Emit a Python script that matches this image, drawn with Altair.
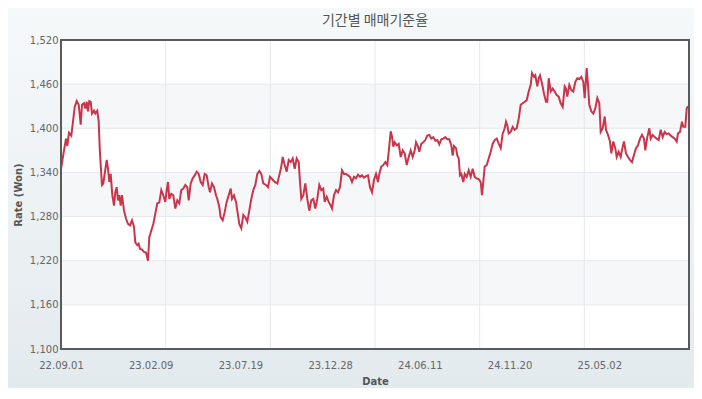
import altair as alt
import pandas as pd

# ---- data ----
title_text = "기간별 매매기준율"
x_labels = ["22.09.01", "23.02.09", "23.07.19", "23.12.28", "24.06.11", "24.11.20", "25.05.02"]
y_ticks = [1100, 1160, 1220, 1280, 1340, 1400, 1460, 1520]
span = 628          # sample index range of the series
label_steps = 7     # label interval count across the span
grid_steps = 6      # vertical grid divisions

t = [0, 3.0, 5.0, 6.3, 8.0, 10.3, 12.0, 13.7, 15.7, 17.7, 19.7, 21.0, 23.0, 24.3, 25.7, 27.0, 28.3, 29.7,
     31.0, 33.0, 34.3, 36.3, 37.7, 38.7, 39.7, 41.0, 42.3, 43.7, 45.7, 47.0, 48.3, 49.7, 51.3, 53.0, 54.3,
     55.7, 57.0, 58.3, 59.7, 61.0, 63.0, 65.0, 67.0, 69.0, 71.0, 73.0, 74.3, 76.3, 77.7, 79.0, 81.0, 83.0,
     85.0, 87.0, 88.3, 90.3, 92.3, 94.3, 96.3, 98.3, 100.3, 102.3,
     104.3, 105.7, 107.0, 108.3, 110.3, 112.3, 114.3, 116.3, 118.3, 120.3, 122.3, 124.3, 126.3, 127.7,
     129.7, 131.7, 133.7, 135.7, 137.7, 139.7, 141.7, 143.7, 145.7, 147.7, 149.0, 151.0, 153.0, 155.0,
     156.3, 158.3, 159.7, 161.7, 163.7, 165.7, 167.7, 169.7, 171.0, 173.0, 175.0, 177.0, 178.3, 180.3,
     182.3, 184.3, 186.3, 188.3, 190.3, 192.3, 194.3, 196.3, 198.3, 200.3, 202.3, 205.0, 207.0, 209.0,
     211.7, 213.7, 216.3, 218.3, 220.3, 221.7, 223.7, 225.7, 227.7, 229.7, 231.7, 233.7, 235.7, 237.7,
     239.0, 240.3, 242.3, 244.3, 246.3, 248.3, 250.3, 252.3, 254.3, 256.3, 258.3, 260.3, 262.3, 263.7,
     265.7, 267.7, 269.7, 271.0, 273.0, 275.0, 277.0, 279.0, 281.0, 283.0, 285.0, 287.0, 289.0, 291.0,
     293.0, 295.0, 297.0, 299.0, 301.0, 303.0, 305.0, 307.0, 309.0, 311.0, 313.0, 315.0,
     317.0, 318.3, 320.3, 322.3, 324.3, 326.3, 327.7, 329.7, 331.0, 332.3, 333.7, 335.7, 337.7, 339.7,
     341.7, 343.7, 345.7, 347.7, 349.7, 351.7, 353.7, 355.0, 357.0, 358.3, 360.3, 362.3, 364.3, 366.3,
     368.3, 370.3, 372.3, 374.3, 376.3, 378.3, 380.3, 382.3, 384.3, 386.3, 388.3, 390.3, 391.7, 393.0,
     395.0, 396.3, 397.7, 399.0, 400.3, 402.3, 403.7, 405.7, 407.7, 409.7, 411.7, 413.7, 415.7, 417.7,
     419.7, 421.0,
     422.3, 423.7, 425.7, 427.7, 429.7, 431.7, 433.7, 435.7, 437.7, 439.7, 441.7, 443.7, 445.0, 446.3,
     447.7, 449.7, 451.7, 453.7, 455.7, 457.7, 459.7, 461.7, 463.7, 465.7, 467.7, 469.7, 471.0, 473.0,
     474.3, 476.3, 477.7, 479.0, 481.0, 483.0, 485.0, 486.3, 487.7, 489.7, 491.7, 493.7, 495.7, 497.7,
     499.7, 501.7, 503.7, 505.0, 506.3, 508.3, 510.3, 512.3, 514.3, 516.3, 518.3, 520.3, 522.3, 523.7,
     525.7, 527.0,
     528.3, 530.3, 532.3, 534.3, 536.3, 538.3, 539.7, 541.7, 543.7, 545.0, 547.0, 549.0, 550.3, 552.3,
     554.3, 555.7, 557.7, 559.7, 561.7, 563.0, 565.0, 567.0, 569.0, 571.0, 573.0, 575.0, 577.0, 579.0,
     581.0, 583.0, 584.3, 586.3, 588.3, 589.7, 591.7, 593.7, 595.7, 597.7, 599.7, 601.7, 603.7, 605.7,
     607.7, 609.7, 611.7, 613.7, 615.7, 617.0, 619.0, 621.0, 622.3, 624.3, 625.7, 627.0]

rate = [1345, 1370, 1386, 1376, 1394, 1390, 1409, 1429, 1437, 1432, 1405, 1432, 1434, 1427, 1436, 1423, 1437, 1436,
        1420, 1424, 1420, 1424, 1409, 1373, 1350, 1323, 1325, 1338, 1357, 1345, 1327, 1338, 1309, 1295, 1313,
        1320, 1302, 1309, 1295, 1309, 1288, 1277, 1270, 1268, 1275, 1266, 1245, 1241, 1243, 1236, 1235, 1232,
        1231, 1220, 1252, 1261, 1270, 1284, 1298, 1299, 1316, 1309,
        1300, 1316, 1327, 1304, 1311, 1309, 1291, 1302, 1298, 1316, 1318, 1323, 1320, 1302,
        1325, 1332, 1336, 1341, 1338, 1327, 1323, 1338, 1336, 1320, 1313, 1325, 1320, 1309,
        1304, 1293, 1279, 1275, 1286, 1300, 1309, 1318, 1304, 1309, 1300, 1282, 1270, 1264,
        1282, 1279, 1273, 1288, 1304, 1316, 1323, 1338, 1342, 1338, 1325, 1323, 1320, 1334,
        1330, 1327, 1325, 1336, 1348, 1361, 1350, 1341, 1357, 1354, 1359, 1345, 1359, 1354,
        1327, 1304, 1309, 1325, 1304, 1288, 1302, 1304, 1291, 1304, 1323, 1316, 1318, 1300,
        1307, 1300, 1295, 1291, 1309, 1316, 1313, 1320, 1343, 1338, 1338, 1336, 1334, 1327,
        1334, 1332, 1337, 1334, 1336, 1333, 1335, 1336, 1320, 1313, 1330, 1338,
        1327, 1338, 1348, 1350, 1354, 1350, 1368, 1396, 1389, 1375, 1381, 1377, 1379, 1361,
        1370, 1366, 1350, 1361, 1370, 1361, 1370, 1381, 1375, 1368, 1379, 1381, 1384, 1390,
        1391, 1386, 1388, 1383, 1384, 1378, 1385, 1386, 1388, 1385, 1385, 1377, 1363, 1376,
        1373, 1363, 1359, 1336, 1338, 1327, 1338, 1334, 1343, 1334, 1345, 1334, 1332, 1331,
        1327, 1309,
        1327, 1348, 1350, 1359, 1368, 1379, 1384, 1386, 1379, 1373, 1393, 1400, 1409, 1404,
        1393, 1395, 1402, 1398, 1400, 1413, 1432, 1434, 1436, 1438, 1450, 1459, 1475, 1470,
        1472, 1457, 1468, 1472, 1461, 1447, 1436, 1436, 1468, 1450, 1454, 1450, 1445, 1443,
        1434, 1429, 1457, 1454, 1443, 1459, 1452, 1450, 1463, 1468, 1467, 1470, 1463, 1441,
        1482, 1459,
        1432, 1423, 1420, 1427, 1441, 1434, 1395, 1400, 1416, 1398, 1391, 1382, 1366, 1382,
        1373, 1361, 1368, 1361, 1375, 1382, 1366, 1361, 1357, 1354, 1364, 1373, 1377, 1386,
        1391, 1386, 1370, 1388, 1400, 1386, 1391, 1388, 1386, 1384, 1398, 1388, 1395, 1392,
        1393, 1390, 1388, 1386, 1382, 1393, 1395, 1409, 1402, 1402, 1427, 1430]

# ---- layout / style ----
W, H = 628, 309
PAD = {"left": 53, "top": 32, "right": 5, "bottom": 39}
LINE_COLOR = "#c9354b"
GRID_COLOR = "#e5e8ec"
BAND_COLOR = "#f6f7f9"
FRAME_COLOR = "#5a5a5a"
LABEL_FONT = "DejaVu Sans"

series = pd.DataFrame({"t": t, "rate": rate})
label_values = [i * span / label_steps for i in range(label_steps)]
label_expr = "[" + ",".join("'%s'" % s for s in x_labels) + "][round(datum.value*%d/%d)]" % (label_steps, span)

x_scale = alt.Scale(domain=[0, span], nice=False, zero=False)
y_scale = alt.Scale(domain=[y_ticks[0], y_ticks[-1]], nice=False, zero=False)

bands = pd.DataFrame({"y": y_ticks[1:-1:2], "y2": y_ticks[2::2]})
hgrid = pd.DataFrame({"y": y_ticks[1:-1]})
vgrid = pd.DataFrame({"x": [k * span / grid_steps for k in range(1, grid_steps)]})
one = pd.DataFrame({"a": [0]})

bg = alt.Chart(one).mark_rect(
    fill=alt.LinearGradient(
        gradient="linear", x1=0, y1=0, x2=0, y2=1,
        stops=[alt.GradientStop(color="#f6f9fa", offset=0),
               alt.GradientStop(color="#e3eaee", offset=1)]),
    clip=False,
).encode(
    x=alt.value(-PAD["left"]), x2=alt.value(W + PAD["right"]),
    y=alt.value(-PAD["top"]), y2=alt.value(H + PAD["bottom"]),
)

title_layer = alt.Chart(one).mark_text(
    text=title_text, font="Noto Sans CJK KR", fontSize=14, color="#555555",
    align="center", baseline="middle",
).encode(x=alt.value(W / 2), y=alt.value(-19.5))

plotbg = alt.Chart(one).mark_rect(fill="white").encode(
    x=alt.value(0), x2=alt.value(W), y=alt.value(0), y2=alt.value(H)
)

band_layer = alt.Chart(bands).mark_rect(fill=BAND_COLOR).encode(
    x=alt.value(0), x2=alt.value(W),
    y=alt.Y("y:Q", scale=y_scale), y2="y2:Q",
)

hgrid_layer = alt.Chart(hgrid).mark_rule(color=GRID_COLOR, strokeWidth=1).encode(
    x=alt.value(0), x2=alt.value(W), y=alt.Y("y:Q", scale=y_scale)
)

vgrid_layer = alt.Chart(vgrid).mark_rule(color=GRID_COLOR, strokeWidth=1).encode(
    x=alt.X("x:Q", scale=x_scale), y=alt.value(0), y2=alt.value(H)
)

line = alt.Chart(series).mark_line(color=LINE_COLOR, strokeWidth=2, clip=True).encode(
    x=alt.X("t:Q", scale=x_scale, title="Date",
            axis=alt.Axis(values=label_values, labelExpr=label_expr, grid=False, ticks=False,
                          domain=False, labelPadding=11, titlePadding=6, labelFlush=False,
                          labelOverlap=False, zindex=2)),
    y=alt.Y("rate:Q", scale=y_scale, title="Rate (Won)",
            axis=alt.Axis(values=y_ticks, format=",.0f", grid=False, ticks=False, domain=False,
                          labelPadding=3, titlePadding=6, zindex=2)),
)

frame = alt.Chart(one).mark_rect(
    fillOpacity=0, stroke=FRAME_COLOR, strokeWidth=2
).encode(x=alt.value(0), x2=alt.value(W), y=alt.value(0), y2=alt.value(H))

chart = alt.layer(bg, title_layer, plotbg, band_layer, hgrid_layer, vgrid_layer, line, frame).properties(
    width=W, height=H,
    autosize=alt.AutoSizeParams(type="none"),
    padding=PAD,
    background="#eef2f4",
).configure_view(stroke=None).configure_axis(
    labelFont=LABEL_FONT, labelFontSize=10, labelColor="#666666",
    titleFont=LABEL_FONT, titleFontSize=10, titleFontWeight="bold", titleColor="#555555",
)

chart.save("out.html", embed_options={"renderer": "svg", "actions": False})
